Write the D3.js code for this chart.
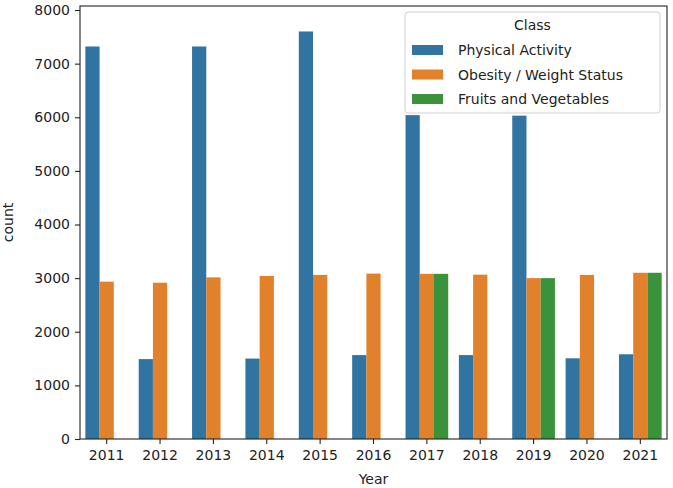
<!DOCTYPE html>
<html>
<head>
<meta charset="utf-8">
<script src="https://cdn.jsdelivr.net/npm/d3@7"></script>
<style>
  html, body { margin: 0; padding: 0; background: #fff; }
  svg { display: block; font-family: "DejaVu Sans", sans-serif; }
</style>
</head>
<body>
<svg id="chart" width="673" height="488"></svg>
<script>
// Counts of records per year, split by topic class
const years = ["2011", "2012", "2013", "2014", "2015", "2016", "2017", "2018", "2019", "2020", "2021"];
const classes = ["Physical Activity", "Obesity / Weight Status", "Fruits and Vegetables"];
const physicalActivity = [7320, 1490, 7320, 1500, 7600, 1565, 6040, 1565, 6030, 1505, 1580];
const obesityWeight = [2935, 2915, 3015, 3040, 3060, 3085, 3080, 3065, 3000, 3060, 3100];
const fruitsVegetables = [null, null, null, null, null, null, 3080, null, 3000, null, 3100];
const yTicks = [0, 1000, 2000, 3000, 4000, 5000, 6000, 7000, 8000];
const palette = ["#3274a1", "#e1812c", "#3a923a"];

(function () {
  const seriesByClass = [physicalActivity, obesityWeight, fruitsVegetables];
  const rows = [];
  years.forEach((yr, i) => {
    classes.forEach((c, k) => {
      const v = seriesByClass[k][i];
      if (v != null) rows.push({ year: yr, cls: c, value: v });
    });
  });

  const svg = d3.select("#chart");
  const plotL = 80, plotR = 667, plotT = 6, plotB = 439;

  const x = d3.scaleBand().domain(years).range([plotL, plotR])
    .paddingInner(0.2).paddingOuter(0.1);
  const xSub = d3.scaleBand().domain(classes).range([0, x.bandwidth()]).padding(0);
  const y = d3.scaleLinear().domain([0, 8075]).range([plotB, plotT]);
  const color = d3.scaleOrdinal().domain(classes).range(palette);

  // bars
  svg.append("g").selectAll("rect").data(rows).join("rect")
    .attr("x", d => x(d.year) + xSub(d.cls))
    .attr("width", xSub.bandwidth())
    .attr("y", d => y(d.value))
    .attr("height", d => y(0) - y(d.value))
    .attr("fill", d => color(d.cls));

  // axes
  const fontSize = 14;
  const xAxis = svg.append("g").attr("transform", `translate(0,${plotB})`)
    .call(d3.axisBottom(x).tickSize(5).tickPadding(6));
  const yAxis = svg.append("g").attr("transform", `translate(${plotL},0)`)
    .call(d3.axisLeft(y).tickValues(yTicks).tickSize(5).tickPadding(5).tickFormat(d3.format("d")));
  [xAxis, yAxis].forEach(g => {
    g.select(".domain").remove();
    g.selectAll(".tick line").attr("stroke", "#222").attr("stroke-width", 1.1);
    g.selectAll(".tick text").attr("fill", "#222")
      .style("font-family", "'DejaVu Sans', sans-serif").style("font-size", fontSize + "px");
  });

  // frame
  svg.append("rect")
    .attr("x", plotL).attr("y", plotT)
    .attr("width", plotR - plotL).attr("height", plotB - plotT)
    .attr("fill", "none").attr("stroke", "#222").attr("stroke-width", 1.1);

  // axis titles
  svg.append("text").attr("x", (plotL + plotR) / 2).attr("y", 484)
    .attr("text-anchor", "middle").attr("fill", "#222").style("font-size", fontSize + "px")
    .text("Year");
  svg.append("text")
    .attr("transform", `translate(13,${(plotT + plotB) / 2}) rotate(-90)`)
    .attr("text-anchor", "middle").attr("fill", "#222").style("font-size", fontSize + "px")
    .text("count");

  // legend
  const lg = svg.append("g");
  const lgX = 405, lgY = 12, lgW = 255, lgH = 101;
  lg.append("rect")
    .attr("x", lgX).attr("y", lgY).attr("width", lgW).attr("height", lgH)
    .attr("rx", 3).attr("fill", "#fff").attr("fill-opacity", 0.8)
    .attr("stroke", "#d0d0d0").attr("stroke-width", 1);
  lg.append("text").attr("x", lgX + lgW / 2).attr("y", 30)
    .attr("text-anchor", "middle").attr("fill", "#222").style("font-size", fontSize + "px")
    .text("Class");
  classes.forEach((c, k) => {
    const cy = 50 + k * 24.5;
    lg.append("rect").attr("x", 412).attr("y", cy - 5).attr("width", 31).attr("height", 10)
      .attr("fill", color(c));
    lg.append("text").attr("x", 458).attr("y", cy + 5)
      .attr("fill", "#222").style("font-size", fontSize + "px").text(c);
  });
})();
</script>
</body>
</html>
